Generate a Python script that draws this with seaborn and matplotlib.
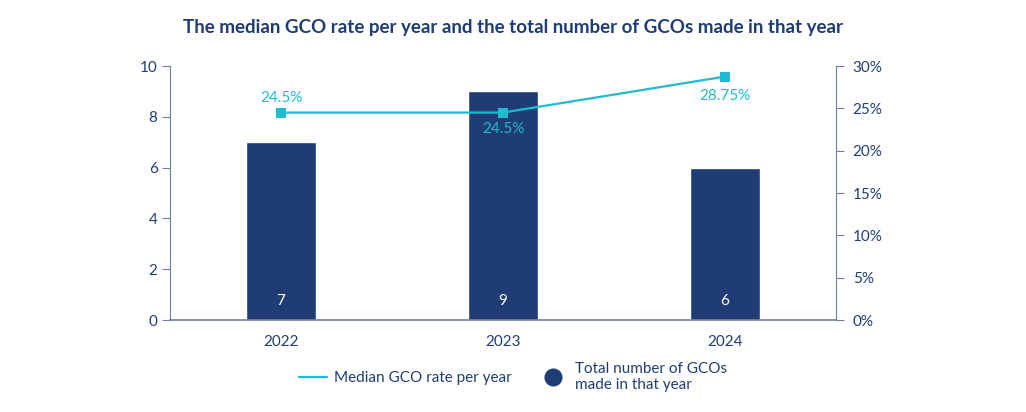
import matplotlib
matplotlib.use("Agg")
import matplotlib.pyplot as plt
import matplotlib.ticker as mtick
from matplotlib.lines import Line2D
import seaborn as sns
import pandas as pd

years = ["2022", "2023", "2024"]
gco_counts = [7, 9, 6]
median_rate = [24.5, 24.5, 28.75]
rate_labels = ["24.5%", "24.5%", "28.75%"]

NAVY = "#1f3d74"
CYAN = "#1dbcd1"
AXIS = "#6f7fa3"

sns.set_style("white")
plt.rcParams["font.family"] = ["Lato", "DejaVu Sans"]

df = pd.DataFrame({"Year": years, "Count": gco_counts, "Rate": median_rate})

fig = plt.figure(figsize=(10.26, 4.12), dpi=100)
ax = fig.add_axes([0.1657, 0.2233, 0.6491, 0.6165])

sns.barplot(data=df, x="Year", y="Count", color=NAVY, width=0.315, saturation=1, ax=ax)
ax.set_ylim(0, 10)
ax.set_xlim(-0.5, 2.5)
ax.set_xlabel("")
ax.set_ylabel("")
ax.set_yticks([0, 2, 4, 6, 8, 10])

for i, v in enumerate(gco_counts):
    ax.text(i, 0.75, str(v), ha="center", va="center", color="white", fontsize=11)

ax2 = ax.twinx()
sns.lineplot(x=[0, 1, 2], y=median_rate, color=CYAN, marker="s", markersize=7,
             markeredgewidth=0, linewidth=1.6, ax=ax2)
ax2.set_ylim(0, 30)
ax2.yaxis.set_major_formatter(mtick.PercentFormatter(decimals=0))
ax2.set_yticks([0, 5, 10, 15, 20, 25, 30])

# label offsets (in % units) above / below each point
offsets = [1.7, -1.95, -2.3]
for i, (v, lab) in enumerate(zip(median_rate, rate_labels)):
    ax2.text(i, v + offsets[i], lab, ha="center", va="center", color=CYAN, fontsize=11)

for a in (ax, ax2):
    for s in a.spines.values():
        s.set_visible(False)
    a.tick_params(colors=NAVY, labelsize=11, length=0)

ax.spines["left"].set_visible(True)
ax.spines["left"].set_color(AXIS)
ax.spines["bottom"].set_visible(True)
ax.spines["bottom"].set_color(AXIS)
ax.spines["bottom"].set_linewidth(1.2)
ax2.spines["right"].set_visible(True)
ax2.spines["right"].set_color(AXIS)
ax.tick_params(axis="y", length=6, color=AXIS, pad=3)
ax2.tick_params(axis="y", length=6, color=AXIS, pad=6)
ax.tick_params(axis="x", pad=11)

fig.suptitle("The median GCO rate per year and the total number of GCOs made in that year",
             x=0.5, y=0.955, fontsize=13.5, fontweight="bold", color=NAVY)

handles = [
    Line2D([0], [0], color=CYAN, linewidth=1.6),
    Line2D([0], [0], color=NAVY, marker="o", linestyle="", markersize=12),
]
fig.legend(handles, ["Median GCO rate per year", "Total number of GCOs\nmade in that year"],
           loc="center", bbox_to_anchor=(0.5, 0.085), ncol=2, frameon=False,
           fontsize=11, labelcolor=NAVY, handlelength=1.8, columnspacing=1.8,
           handletextpad=0.5)

fig.savefig("out.png", dpi=100)
